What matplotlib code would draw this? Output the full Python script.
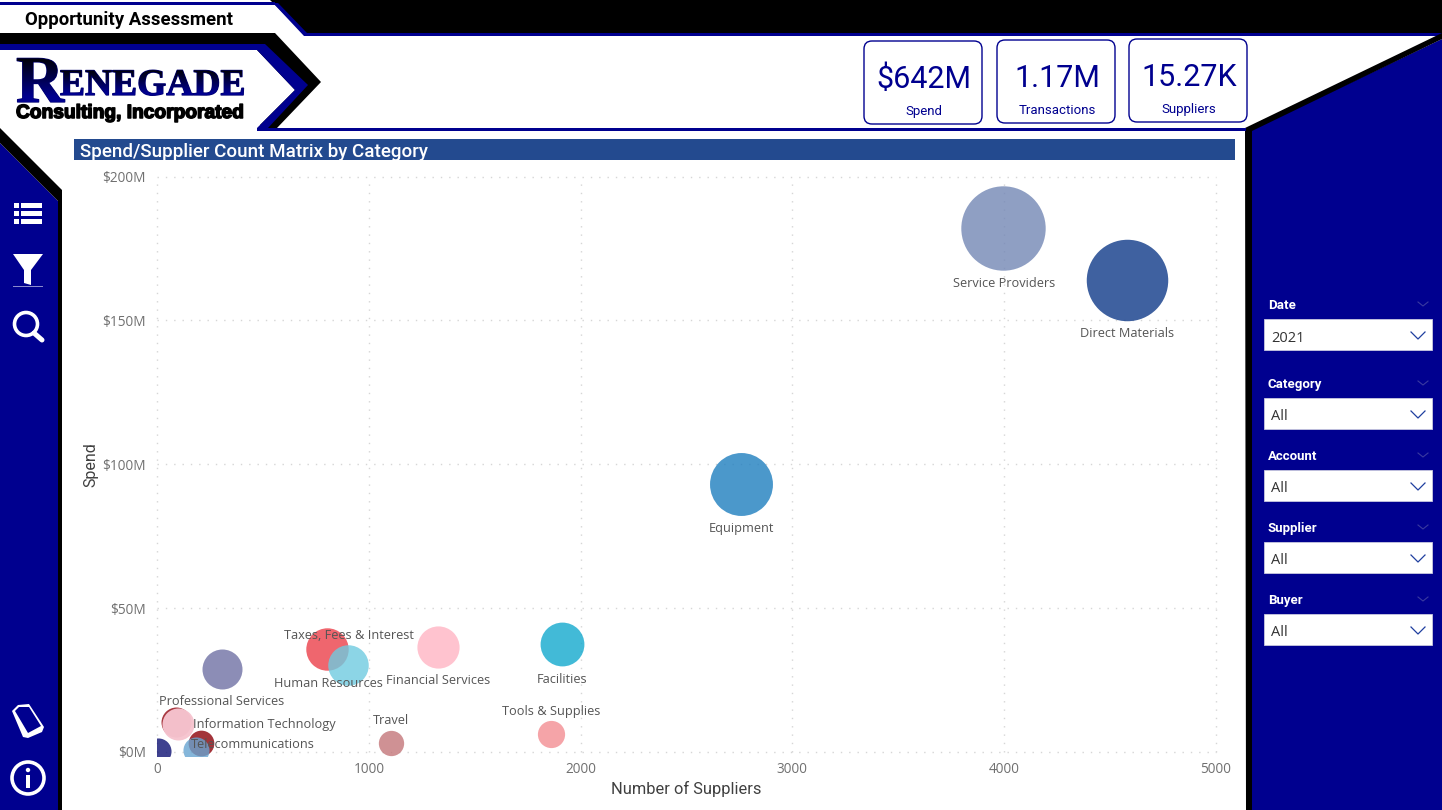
import matplotlib
matplotlib.use("Agg")
import matplotlib.pyplot as plt
import numpy as np
from matplotlib.colors import to_rgb
from matplotlib.patches import Polygon, Rectangle, FancyBboxPatch, Circle
from matplotlib.transforms import Bbox, Affine2D
from matplotlib.textpath import TextPath
from matplotlib.font_manager import FontProperties
import matplotlib.patheffects as pe

# ---- data ----
categories = ["Service Providers", "Direct Materials", "Equipment", "Facilities",
              "Financial Services", "Taxes, Fees & Interest", "Human Resources",
              "Professional Services", "Marketing", "Information Technology",
              "Utilities", "Telecommunications", "Logistics", "Tools & Supplies", "Travel"]
suppliers = [3995, 4580, 2757, 1912, 1325, 805, 902, 305, 90, 100, 210, 185, 5, 1860, 1105]
spend_m = [182, 164, 93, 37.5, 36.5, 35.8, 30.2, 29, 10.5, 9.8, 3, 0.8, 0.5, 6.2, 3.2]
bubble_measure = [1780, 1660, 990, 480, 445, 450, 410, 400, 225, 256, 165, 170, 170, 185, 160]
bubble_colors = ["#8F9FC4", "#3F61A0", "#4B98CC", "#42BAD8", "#FFC4D0", "#F0666E", "#8CD5E6",
                 "#8C8DB6", "#A83A42", "#F6C6D0", "#A3343A", "#85B6DA", "#3F418F", "#F5A4A8", "#D09194"]
bubble_alphas = [0.8, 0.8, 0.8, 0.8, 0.8, 0.8, 0.8, 0.8, 0.8, 0.97, 0.8, 0.8, 0.8, 0.8, 0.8]
labeled = ["Service Providers", "Direct Materials", "Equipment", "Facilities", "Financial Services",
           "Taxes, Fees & Interest", "Human Resources", "Professional Services",
           "Information Technology", "Telecommunications", "Tools & Supplies", "Travel"]
label_offsets = {"Service Providers": (1, 55), "Direct Materials": (0, 53), "Equipment": (1, 44),
                 "Facilities": (0, 35), "Financial Services": (0, 34), "Taxes, Fees & Interest": (21, -13),
                 "Human Resources": (-20, 18), "Professional Services": (0, 33),
                 "Information Technology": (86, 1), "Telecommunications": (57, -5),
                 "Tools & Supplies": (0, -23), "Travel": (0, -22)}
x_ticks = [0, 1000, 2000, 3000, 4000, 5000]
y_ticks = [0, 50, 100, 150, 200]
y_tick_labels = ["$0M", "$50M", "$100M", "$150M", "$200M"]
kpi_values = ["$642M", "1.17M", "15.27K"]
kpi_names = ["Spend", "Transactions", "Suppliers"]
slicer_names = ["Date", "Category", "Account", "Supplier", "Buyer"]
slicer_values = ["2021", "All", "All", "All", "All"]

NAVY = "#00008F"
BODY = "Open Sans"
DIN = "Roboto"
W, H = 1442, 810

fig = plt.figure(figsize=(W / 100, H / 100), dpi=100, facecolor="white")

# ---- page chrome, in pixel coordinates ----
bg = fig.add_axes([0, 0, 1, 1], zorder=0)
bg.axis("off")

def poly(pts, c, z=1):
    bg.add_patch(Polygon(pts, closed=True, fc=c, ec="none", zorder=z))

poly([(270, 0), (W, 0), (W, 34), (305, 34)], "black")
poly([(273, 3), (278, 3), (307, 33), (W, 33), (W, 36), (304, 36)], NAVY, 2)
poly([(0, 2), (275, 2), (275, 4.5), (0, 4.5)], NAVY, 2)
poly([(0, 33), (275, 33), (321, 82), (277, 128), (260, 128), (260, 60), (0, 60)], "black", 2)
poly([(0, 44), (265, 44), (308, 85), (268, 128), (1246, 128), (1246, 131), (257, 131), (257, 128), (295, 90), (257, 50), (0, 50)], NAVY, 3)
poly([(0, 50), (257, 50), (295, 90), (257, 128), (0, 128)], "white", 2.5)
poly([(1245, 128), (W, 33), (W, 39), (1252, 131), (1252, H), (1246, H)], "black", 2)
poly([(1251, 130), (W, 39), (W, H), (1251, H)], NAVY, 1.5)
poly([(0, 128), (62, 190), (62, H), (58, H), (58, 201), (0, 143)], "black", 2)
poly([(0, 143), (58, 201), (58, H), (0, H)], NAVY, 1.5)
bg.add_patch(Rectangle((74, 139), 1161, 21, fc="#234A8F", ec="none", zorder=3))

def txt(x, y, s, size, color, family=BODY, ha="center", va="center", **kw):
    return bg.text(x, y, s, fontsize=size, color=color, family=family, ha=ha, va=va, zorder=6, **kw)

txt(25, 25, "Opportunity Assessment", 13.4, "black", DIN, ha="left", va="baseline", fontweight="bold")
txt(80, 157, "Spend/Supplier Count Matrix by Category", 13.5, "white", DIN, ha="left", va="baseline", fontweight="medium")

# logo: real text, darkened towards the top by a gradient clipped to the same glyphs
logo_font = FontProperties(family="Liberation Serif", weight="bold")
for s, x, base, size in [("R", 16, 102, 48), ("ENEGADE", 60, 95, 27)]:
    bg.text(x, base, s, fontsize=size, color=NAVY, family="Liberation Serif", fontweight="bold",
            ha="left", va="baseline", zorder=6,
            path_effects=[pe.withStroke(linewidth=0.9, foreground="#000070")])
    glyphs = TextPath((0, 0), s, size=size * 100 / 72, prop=logo_font)
    shade = np.zeros((64, 2, 4))
    shade[..., 3] = np.clip(np.linspace(1, -0.15, 64), 0, 1)[:, None]
    top = base - size * 100 / 72 * 0.68
    im = bg.imshow(shade, extent=(x - 3, x + 200, base + 1, top), aspect="auto", zorder=6.5, interpolation="bilinear")
    im.set_clip_path(glyphs, Affine2D().scale(1, -1).translate(x, base) + bg.transData)
bg.set_xlim(0, W); bg.set_ylim(H, 0)

txt(16, 118, "Consulting, Incorporated", 13.8, "black", "Liberation Sans", ha="left", va="baseline", fontweight="bold",
    path_effects=[pe.withStroke(linewidth=1.1, foreground="black")])

# KPI cards
for (x0, y0), v, n in zip([(864, 41), (997, 40), (1129, 39)], kpi_values, kpi_names):
    bg.add_patch(FancyBboxPatch((x0 + 8, y0 + 8), 102, 67, boxstyle="round,pad=8", fc="white",
                                ec=NAVY, lw=1, zorder=4))
    txt(x0 + 60, y0 + 47, v, 22, NAVY, DIN, va="baseline")
    txt(x0 + 60, y0 + 74, n, 9.5, NAVY, DIN, va="baseline")

# slicers
for y, n, v in zip([304, 383, 455, 527, 599], slicer_names, slicer_values):
    txt(1268, y + 5, n, 9.5, "white", DIN, ha="left", va="baseline", fontweight="bold")
    bg.plot([1418, 1423, 1428], [y - 2, y + 2, y - 2], color="#3A3AA0", lw=0.8, zorder=5)
    top = y + 15
    bg.add_patch(Rectangle((1264, top), 168, 31, fc="white", ec="#C8C8E0", lw=0.6, zorder=4))
    txt(1271, top + 22.5, v, 10.5, "#333333", BODY, ha="left", va="baseline")
    bg.plot([1411, 1418, 1425], [top + 13, top + 20, top + 13], color="#1F3F9F", lw=0.9, zorder=5)

# left icons
for yy in (205, 213, 221):
    bg.add_patch(Rectangle((14, yy - 2), 4.5, 4.5, fc="white", ec="none", zorder=5))
    bg.add_patch(Rectangle((21, yy - 2), 21, 4.5, fc="white", ec="none", zorder=5))
poly([(13, 254), (43, 254), (31, 270), (31, 285), (24, 283), (24, 270)], "white", 5)
bg.plot([13, 42], [285.5, 285.5], color="#8F8FD0", lw=0.7, zorder=5)
bg.add_patch(Circle((26, 324), 11.5, fc="none", ec="white", lw=2.6, zorder=5))
bg.plot([34, 42], [333, 340], color="white", lw=3.6, solid_capstyle="round", zorder=5)
poly([(12, 711), (18, 705), (29, 704), (44, 727), (42, 732), (28, 738), (23, 737)], "white", 5)
poly([(15, 711), (19, 707), (29, 707), (41, 726), (28, 733)], NAVY, 5.5)
bg.add_patch(Circle((28, 778), 16, fc="none", ec="white", lw=2.6, zorder=5))
bg.add_patch(Circle((28, 770), 2.2, fc="white", ec="none", zorder=5))
bg.add_patch(Rectangle((26, 775), 4, 13, fc="white", ec="none", zorder=5))

# ---- chart ----
ax = fig.add_axes([157 / W, 1 - 752 / H, (1216 - 157) / W, (752 - 176.5) / H], zorder=2)
ax.patch.set_alpha(0)
ax.set_xlim(0, 5000); ax.set_ylim(0, 200)
for s in ax.spines.values():
    s.set_visible(False)
ax.set_xticks(x_ticks); ax.set_yticks(y_ticks); ax.set_yticklabels(y_tick_labels)
ax.tick_params(length=0, pad=8, labelsize=9.8, labelcolor="#707070")
ax.tick_params(axis="x", pad=7)
for t in ax.get_xticklabels() + ax.get_yticklabels():
    t.set_family(BODY)
ax.grid(True, color="#D6D6D6", lw=1, linestyle=(0, (1, 5)))
ax.set_axisbelow(True)
for line in ax.get_xgridlines() + ax.get_ygridlines():
    line.set_clip_on(False)
ax.set_xlabel("Number of Suppliers", fontsize=11.8, family=DIN, color="#404040", labelpad=3)
ax.set_ylabel("Spend", fontsize=11.5, family=DIN, color="#404040", labelpad=3)

def through_alpha(color, a):
    # the colour that, at alpha a over white, shows the colour
    return tuple(min(1, max(0, (v - (1 - a)) / a)) for v in to_rgb(color))

clip = Bbox([[156.5, H - 755.5], [1230, H - 170]])
for i, c in enumerate(categories):
    sc = ax.scatter(suppliers[i], spend_m[i], s=bubble_measure[i] * 2.0736,
                    color=[through_alpha(bubble_colors[i], bubble_alphas[i])],
                    alpha=bubble_alphas[i], linewidths=0, zorder=3 + i * 0.01)
    sc.set_clip_box(clip)
    if c in labeled:
        dx, dy = label_offsets[c]
        ax.annotate(c, (suppliers[i], spend_m[i]), xytext=(dx, -dy), textcoords="offset pixels",
                    ha="center", va="center", fontsize=9.2, family=BODY, color="#555555", zorder=10,
                    annotation_clip=False)

fig.savefig("out.png", dpi=100)
